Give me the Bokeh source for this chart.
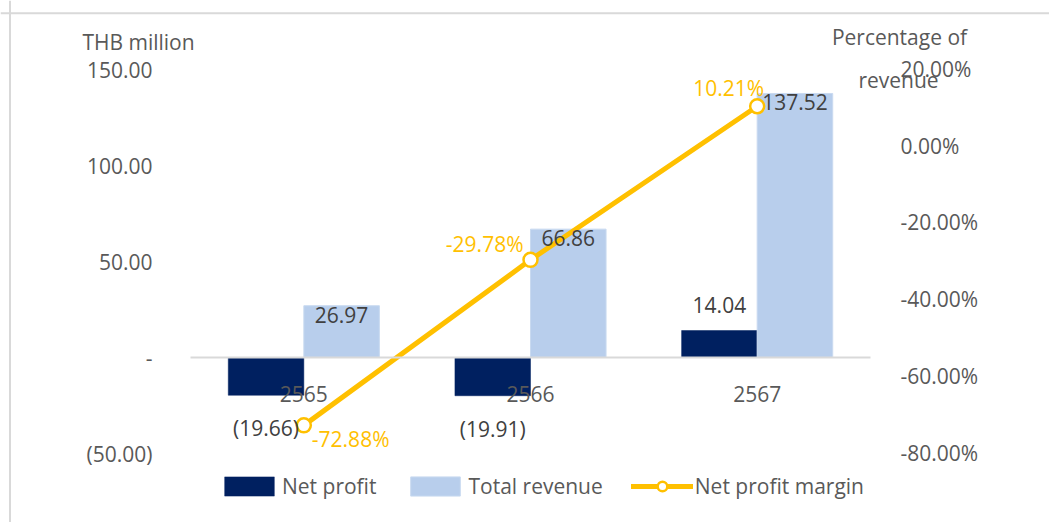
from bokeh.plotting import figure
from bokeh.models import (Range1d, LinearAxis, ColumnDataSource, LabelSet, Label,
                          Span, Legend, LegendItem, FixedTicker)
from bokeh.core.properties import value
from bokeh.transform import dodge
from bokeh.embed import file_html
from bokeh.resources import INLINE

# ---- data ----
years = ["2565", "2566", "2567"]
net_profit = [-19.66, -19.91, 14.04]
total_revenue = [26.97, 66.86, 137.52]
net_profit_margin = [-72.88, -29.78, 10.21]
left_ticks = [-50, 0, 50, 100, 150]
left_tick_labels = ["(50.00)", "-", "50.00", "100.00", "150.00"]
right_ticks = [-80, -60, -40, -20, 0, 20]

FONT = "Open Sans"
FS = "21px"
TICK_COLOR = "#595959"
LABEL_COLOR = "#404040"
NAVY = "#002060"
LIGHT = "#B8CEEC"
GOLD = "#FFC000"

# ---- layout geometry (pixels on the page) ----
OFF = 0                      # page offset of the figure
W, H = 1049, 522             # figure size
PL, PR = 190, 870            # plot area left/right
ZERO_L, PPU_L = 357, 1.92    # left axis: zero pixel, px per unit
ZERO_R, PPU_R = 145, 3.84    # right axis: zero pixel, px per percent
N = len(years)
PPX = (PR - PL) / N


def xd(px):
    return -0.5 + (px - PL) / PPX


def yl(py):
    return (ZERO_L - py) / PPU_L


def yr(py):
    return (ZERO_R - py) / PPU_R


def fmt_acc(v):
    return f"({abs(v):.2f})" if v < 0 else f"{v:.2f}"


idx = list(range(N))
src = ColumnDataSource(dict(
    idx=idx,
    year=years,
    np=net_profit,
    tr=total_revenue,
    m=net_profit_margin,
    np_lbl=[fmt_acc(v) for v in net_profit],
    tr_lbl=[fmt_acc(v) for v in total_revenue],
    np_off=[26 if v >= 0 else -33 for v in net_profit],
))

p = figure(width=W, height=H, title=None,
           x_range=Range1d(xd(OFF), xd(OFF + W)),
           y_range=Range1d(yl(OFF + H), yl(OFF)),
           output_backend="svg", toolbar_location=None,
           x_axis_location=None, y_axis_location=None, min_border=0)
p.extra_y_ranges = {"pct": Range1d(yr(OFF + H), yr(OFF))}
p.grid.visible = False
p.outline_line_color = None

# outer chart border (left and top)
p.add_layout(Span(location=xd(9.5), dimension="height", line_color="#D9D9D9", line_width=2))
p.add_layout(Span(location=yl(12.7), dimension="width", line_color="#D9D9D9", line_width=2))


def style_axis(ax, standoff):
    ax.axis_line_color = None
    ax.major_tick_line_color = None
    ax.minor_tick_line_color = None
    ax.major_tick_out = 0
    ax.major_tick_in = 0
    ax.major_label_standoff = standoff
    ax.major_label_text_font = FONT
    ax.major_label_text_font_size = FS
    ax.major_label_text_color = TICK_COLOR


# left axis
la = LinearAxis(fixed_location=-0.5, ticker=FixedTicker(ticks=left_ticks))
la.major_label_overrides = {t: l for t, l in zip(left_ticks, left_tick_labels)}
style_axis(la, 38)
p.add_layout(la, "left")

# right axis
ra = LinearAxis(fixed_location=N - 0.5, y_range_name="pct", ticker=FixedTicker(ticks=right_ticks))
ra.major_label_overrides = {t: f"{t:.2f}%" for t in right_ticks}
style_axis(ra, 30)
p.add_layout(ra, "right")

# bars
b1 = p.vbar(x=dodge("idx", -1 / 6), top="np", bottom=0, width=1 / 3,
            source=src, fill_color=NAVY, line_color=NAVY, line_width=0.5)
b2 = p.vbar(x=dodge("idx", 1 / 6), top="tr", bottom=0, width=1 / 3,
            source=src, fill_color=LIGHT, line_color="#C9DAF0", line_width=1)

# category axis along zero
ca = LinearAxis(fixed_location=0, ticker=FixedTicker(ticks=idx), bounds=(-0.5, N - 0.5))
ca.major_label_overrides = {i: y for i, y in zip(idx, years)}
style_axis(ca, 28)
ca.axis_line_color = "#D9D9D9"
ca.axis_line_width = 2
p.add_layout(ca, "below")

# line
ln = p.line(x="idx", y="m", source=src, y_range_name="pct", line_color=GOLD,
            line_width=5, line_cap="round", line_join="round")
sc = p.scatter(x="idx", y="m", source=src, y_range_name="pct", size=14,
               fill_color="white", line_color=GOLD, line_width=2.5)

# data labels
p.add_layout(LabelSet(x=dodge("idx", 1 / 6), y="tr", text="tr_lbl",
                      source=src, y_offset=-9, text_align="center", text_baseline="middle",
                      text_font=value(FONT), text_font_size=FS, text_color=LABEL_COLOR))
p.add_layout(LabelSet(x=dodge("idx", -1 / 6), y="np", text="np_lbl",
                      source=src, y_offset="np_off", text_align="center", text_baseline="middle",
                      text_font=value(FONT), text_font_size=FS, text_color=LABEL_COLOR))

margin_specs = [("left", 8, -14), ("right", -7, 16), ("right", 7, 18)]
for i, v, (al, xo, yo) in zip(idx, net_profit_margin, margin_specs):
    p.add_layout(Label(x=i, y=v, y_range_name="pct", text=f"{v:.2f}%",
                       x_offset=xo, y_offset=yo, text_align=al, text_baseline="middle",
                       text_font=FONT, text_font_size=FS, text_color=GOLD))

# axis titles
for txt, px, py in [("THB million", 138, 41), ("Percentage of", 899, 36), ("revenue", 898, 79)]:
    p.add_layout(Label(x=xd(px), y=yl(py), text=txt, text_align="center",
                       text_baseline="middle", text_font=FONT, text_font_size=FS,
                       text_color=TICK_COLOR))

legend = Legend(items=[LegendItem(label="Net profit", renderers=[b1]),
                       LegendItem(label="Total revenue", renderers=[b2]),
                       LegendItem(label="Net profit margin", renderers=[ln, sc])],
                orientation="horizontal", location=(218 - OFF, OFF + H - 500),
                glyph_width=62, glyph_height=24, label_standoff=2, spacing=28,
                padding=0, margin=0, border_line_color=None, background_fill_alpha=0,
                label_text_font=FONT, label_text_font_size=FS,
                label_text_color=TICK_COLOR)
p.add_layout(legend)

open("out.html", "w").write(file_html(p, INLINE))
